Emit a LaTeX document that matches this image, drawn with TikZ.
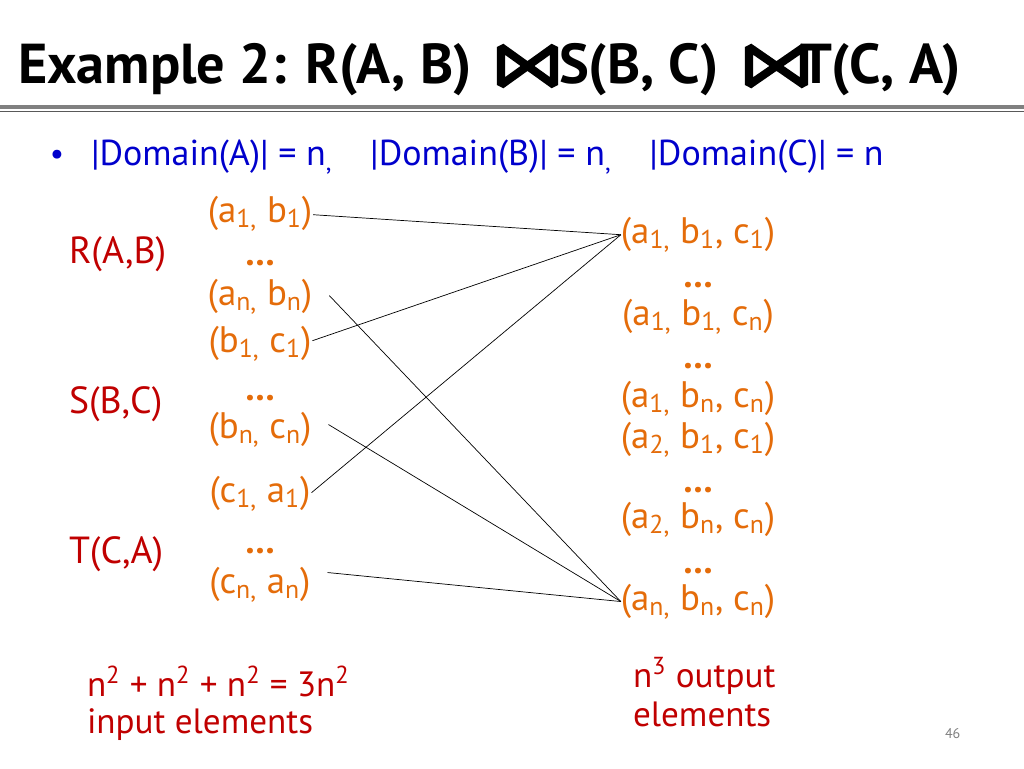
\documentclass[tikz,border=0pt]{standalone}
\usepackage{fontspec}
\setmainfont{PT Sans}
\usetikzlibrary{calc}
\definecolor{tupleorange}{HTML}{E46C0A}
\definecolor{reldred}{HTML}{C00000}
\definecolor{domblue}{HTML}{0000CC}
\newcommand{\sbs}[1]{\textsubscript{#1}}
\newcommand{\sps}[1]{\textsuperscript{#1}}

\begin{document}
\begin{tikzpicture}[x=0.02cm,y=-0.02cm,
  every node/.style={inner sep=0pt,outer sep=0pt},
  tuple/.style={text=tupleorange,font=\fontsize{21}{24}\selectfont,anchor=base},
  rel/.style={text=reldred,font=\fontsize{21.5}{24}\selectfont,anchor=base west},
  note/.style={text=reldred,font=\fontsize{20}{20.5}\selectfont,anchor=base west,align=left},
  bowtie/.style={line width=4.6pt,line join=bevel},
  link/.style={thin,black}]
\useasboundingbox (0,0) rectangle (1024,768);

\node[anchor=base west,font=\bfseries\fontsize{32}{36}\selectfont] (title) at (18,83) {Example 2: R(A, B)};
\draw[bowtie] (501,47) -- (501,85) -- (554,47) -- (554,85) -- cycle;
\node[anchor=base west,font=\bfseries\fontsize{32}{36}\selectfont] (titleS) at (559,83) {S(B, C)};
\draw[bowtie] (749,47) -- (749,85) -- (804,47) -- (804,85) -- cycle;
\node[anchor=base west,font=\bfseries\fontsize{32}{36}\selectfont] (titleT) at (800,83) {T(C, A)};
\draw[gray,line width=2.4pt] (0,107) -- (1024,107);
\draw[gray!70!black,line width=0.6pt] (0,111.5) -- (1024,111.5);

\node[anchor=base west,text=domblue,font=\fontsize{18}{20}\selectfont] (bullet) at (50,164) {\textbullet};
\node[anchor=base west,text=domblue,font=\fontsize{20.5}{24}\selectfont] (domains) at (91,165)
  {|Domain(A)| = n\sbs{,}\hspace{1.05em}|Domain(B)| = n\sbs{,}\hspace{1.05em}|Domain(C)| = n};

\node[rel] (R) at (69,263) {R(A,B)};
\node[rel] (S) at (69,413) {S(B,C)};
\node[rel] (T) at (69,563) {T(C,A)};

\node[tuple] (ab1) at (260,222) {(a\sbs{1,} b\sbs{1})};
\node[tuple] (abdots) at (260,265) {\textbf{…}};
\node[tuple] (abn) at (260,305) {(a\sbs{n,} b\sbs{n})};
\node[tuple] (bc1) at (260,352) {(b\sbs{1,} c\sbs{1})};
\node[tuple] (bcdots) at (260,400) {\textbf{…}};
\node[tuple] (bcn) at (260,438) {(b\sbs{n,} c\sbs{n})};
\node[tuple] (ca1) at (260,502) {(c\sbs{1,} a\sbs{1})};
\node[tuple] (cadots) at (260,553) {\textbf{…}};
\node[tuple] (can) at (260,593) {(c\sbs{n,} a\sbs{n})};

\node[tuple] (abc111) at (698,243) {(a\sbs{1,} b\sbs{1}, c\sbs{1})};
\node[tuple] (dotsA) at (698,287) {\textbf{…}};
\node[tuple] (abc11n) at (698,325) {(a\sbs{1,} b\sbs{1,} c\sbs{n})};
\node[tuple] (dotsB) at (698,368) {\textbf{…}};
\node[tuple] (abc1nn) at (698,407) {(a\sbs{1,} b\sbs{n}, c\sbs{n})};
\node[tuple] (abc211) at (698,448) {(a\sbs{2,} b\sbs{1}, c\sbs{1})};
\node[tuple] (dotsC) at (698,492) {\textbf{…}};
\node[tuple] (abc2nn) at (698,528) {(a\sbs{2,} b\sbs{n}, c\sbs{n})};
\node[tuple] (dotsD) at (698,573) {\textbf{…}};
\node[tuple] (abcnnn) at (698,610) {(a\sbs{n,} b\sbs{n}, c\sbs{n})};

\draw[link] ($(ab1.east)+(1,1)$) -- (abc111.west);
\draw[link] ($(bc1.east)+(1,-3)$) -- (abc111.west);
\draw[link] ($(ca1.east)+(1,-1)$) -- (abc111.west);
\draw[link] ($(abn.east)+(17,-1)$) -- (abcnnn.west);
\draw[link] ($(bcn.east)+(17,-5)$) -- (abcnnn.west);
\draw[link] ($(can.east)+(17,-12)$) -- (abcnnn.west);

\node[note,font=\fontsize{20}{20.5}\selectfont] (inputs) at (87,733) {n\sps{2} + n\sps{2} + n\sps{2} = 3n\sps{2}\\input elements};
\node[note,font=\fontsize{20}{22}\selectfont] (outputs) at (633,726) {n\sps{3} output\\elements};
\node[anchor=base west,text=gray,font=\fontsize{8}{10}\selectfont] (pageno) at (945,738) {46};
\end{tikzpicture}
\end{document}
